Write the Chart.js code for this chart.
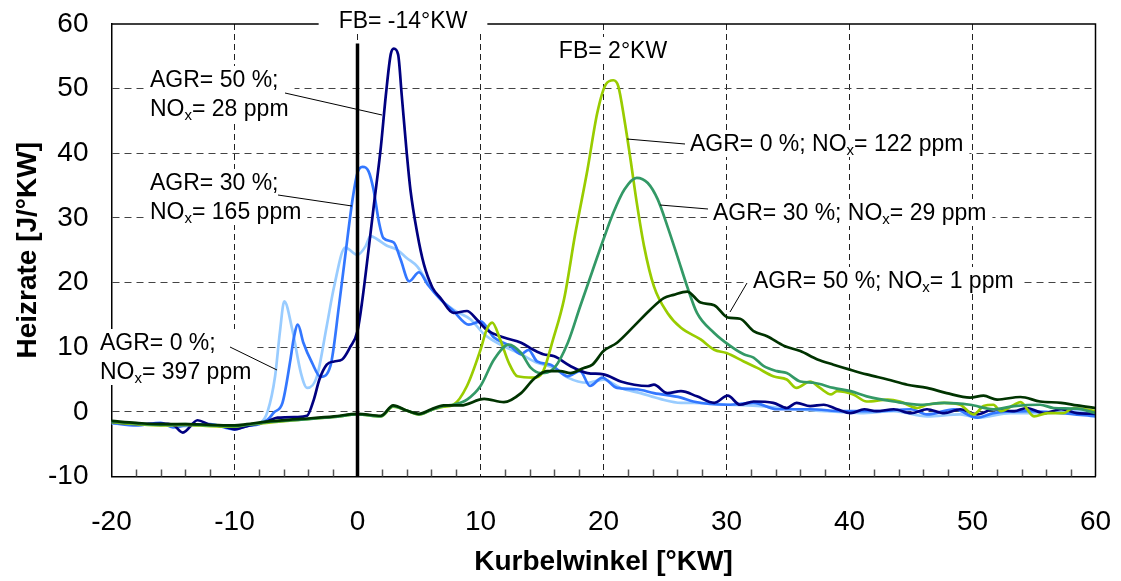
<!DOCTYPE html>
<html lang="de">
<head>
  <meta charset="UTF-8">
  <title>Heizrate</title>
  <script src="https://cdn.jsdelivr.net/npm/chart.js"></script>
  <style>
    html, body { margin: 0; padding: 0; background: #fff; }
    #wrap { width: 1121px; height: 581px; }
  </style>
</head>
<body>
  <div id="wrap"><canvas id="chart" width="1121" height="581"></canvas></div>

  <script>
    // Kurbelwinkel [°KW] und Heizrate [J/°KW] je Kurve
    // FB = -14°KW
    const blue0X = [-20,-18,-16,-14,-12,-10,-9,-7.9,-7.3,-6.7,-6.3,-5.95,-5.3,-4.6,-4.1,-3.3,-2.5,-1.9,-1.0,0,0.65,1.05,1.6,2.4,3.2,4,4.85,5.7,6.5,7.8,9.2,10.3,11.6,13.3,14.6,16,17.1,18.7,20,21.4,23,24.6,26.3,27.3,30.1,32.8,35.5,38.2,40.9,43.6,46.3,49,50.4,53.1,55.8,58.5,60];
    const blue0Y = [-1.8,-2.0,-1.9,-2.2,-2.0,-2.5,-2.1,-1.7,0.1,5.5,12.5,17.1,12.7,6.0,3.7,5.5,13.3,19.4,25.4,24.3,25.6,27.2,26.7,25.7,25.1,23.8,22.5,20.0,17.9,15.8,14.3,12.0,10.4,8.9,7.6,6.8,5.3,4.5,5.0,3.7,2.9,2.0,1.4,1.4,1.1,0.9,0.4,0.1,-0.2,0.1,-0.7,-0.4,-0.9,-0.2,-0.2,0.1,-0.5];

    const blue30X = [-20,-18,-16,-15,-14,-12,-10,-9,-8,-7.3,-6.8,-6.1,-5.45,-5.2,-4.85,-4.4,-3.7,-3.0,-2.2,-1.5,-1.0,-0.4,0,0.4,0.9,1.3,1.75,2.1,2.95,3.5,4.2,5.0,5.7,6.75,7.8,9.05,10,11.1,12.4,13.3,13.9,14.6,15.7,17.1,18.1,18.9,19.9,21.1,22.7,24.1,26.3,27.3,30.1,32.2,34.1,36.8,39.5,42.2,45,46.3,48.5,50.4,51.7,54.4,57.2,60];
    const blue30Y = [-1.7,-2.1,-1.7,-2.4,-2.1,-1.9,-2.7,-2.2,-1.9,-1.2,-0.1,1.4,8.1,11.2,13.5,10.7,7.6,5.4,7.1,16.5,24.1,32.9,37.0,37.9,37.2,34.4,29.3,26.9,26.2,23.6,20.2,21.6,19.7,17.4,15.6,13.5,14.0,11.5,10.2,8.9,9.6,7.8,7.3,5.5,6.3,4.0,5.3,3.7,3.5,2.9,2.2,1.6,1.1,1.4,0.4,0.4,0.1,0.1,0.4,-0.4,0.4,-0.9,-0.2,0.1,-0.2,-0.7];

    const blue50X = [-20,-18,-16,-15,-14.2,-13,-12,-11,-10,-9,-8,-7.35,-6.5,-4.9,-4.1,-3.55,-3.1,-2.5,-1.9,-1.25,-0.6,0,0.4,0.9,1.3,1.9,2.3,2.7,2.95,3.3,3.6,4.0,4.3,4.85,5.4,6.1,6.75,7.8,8.9,9.7,10.5,11.9,13.3,14.3,15.1,16,17.3,18.7,20,21.4,22.5,23.6,24.1,25.2,26.3,27.6,29,30.1,31.1,32.2,33.8,34.9,35.7,36.8,37.9,39,40.1,41.2,42.2,43.6,45,46.3,47.7,49,50.4,51.7,53.4,54.4,55.8,57.2,58.5,60];
    const blue50Y = [-1.6,-1.9,-1.8,-2.0,-3.2,-1.3,-2.0,-2.2,-2.7,-2.2,-1.8,-1.5,-0.9,-0.8,-0.6,1.9,5.0,7.3,7.8,8.1,10.0,12.5,17.4,25.1,31.5,41.0,48.9,55.3,56.2,55.3,48.9,40.1,34.4,27.7,22.8,19.2,17.6,15.3,15.6,14.3,12.7,11.5,10.7,9.6,8.9,8.6,7.1,6.0,5.8,4.7,4.2,4.0,4.2,2.9,3.2,2.4,1.4,2.5,1.1,1.6,1.4,0.6,1.4,0.9,1.1,0.4,-0.2,0.4,0.1,0.4,-0.2,0.4,-0.2,0.4,-0.4,0.4,0.1,0.6,-0.2,0.4,-0.2,-0.3];

    // FB = 2°KW
    const green0X = [-20,-18,-16,-14,-12,-10,-9,-7.4,-4.6,-1.9,0,1.9,2.9,4,5,6,7,7.8,8.9,10,10.5,10.95,11.6,12.3,13,14.3,15.1,15.9,16.8,17.7,18.7,19.5,20.2,20.8,21.2,21.7,22.2,22.7,23.3,24.1,25.2,26.3,27.9,29,30,31.4,32.5,33.8,34.9,35.7,36.8,37.6,38.5,39,40.3,41.4,43.1,44.1,45.5,46.3,47.7,49,50.1,50.9,51.7,52.3,53.4,53.9,55,56.1,57.4,58.2,60];
    const green0Y = [-1.6,-1.9,-2.1,-2.0,-2.2,-2.3,-2.0,-1.7,-1.2,-0.8,-0.4,-0.7,0.8,0.2,-0.4,0.3,0.8,1.1,4.0,9.6,12.7,13.8,11.2,7.6,5.5,5.3,6.3,11.2,17.5,27.5,37.5,46.3,50.7,51.3,50.4,45.2,39.0,32.4,25.6,19.4,15.3,13.0,11.2,9.6,9.1,7.8,6.8,5.5,5.0,3.7,4.7,3.7,2.7,3.2,2.7,1.6,1.9,1.6,0.6,1.1,1.4,1.1,-0.4,0.9,1.1,0.1,1.1,1.5,-0.7,-0.2,-0.2,0.6,0.1];

    const green30X = [-20,-18,-16,-14,-12,-10,-9,-7.4,-4.6,-1.9,0,1.9,2.9,4,5,6,7,7.8,8.9,10,11.1,12.3,13.3,14.1,14.9,16,17.1,18.1,19.1,20,20.8,21.7,22.7,23.6,24.4,25.2,26,26.8,27.6,29,30.3,31.4,32.2,33,34.1,34.9,36,37.1,38.7,40.1,41.4,43.6,45.8,47.7,49.8,51.7,53.4,55.5,56.6,58.5,60];
    const green30Y = [-1.5,-1.8,-2.0,-1.9,-2.1,-2.2,-2.0,-1.6,-1.2,-0.8,-0.4,-0.7,0.9,0.2,-0.4,0.3,0.9,1.1,1.9,4.0,8.1,10.4,9.1,6.8,6.0,6.8,10.7,16.3,21.8,26.7,30.8,34.4,36.2,35.4,32.9,28.7,24.1,19.4,15.3,12.2,10.2,8.9,8.4,7.1,6.3,6.0,4.7,4.5,3.7,3.2,2.4,1.6,1.1,1.4,1.1,0.4,0.9,1.1,0.6,0.5,-0.2];

    const green50X = [-20,-18,-16,-14,-12,-10,-9,-7.4,-4.6,-1.9,0,1.9,2.9,4,5,6,7,8.4,10.3,11.9,13.3,14.3,15.4,16.5,17.3,18.4,19.1,20,21.1,22.5,23.8,24.9,25.7,26.8,27.9,29,30.1,31.1,32.2,33.3,34.7,36,37.4,38.7,40.1,41.4,43.1,44.7,46.3,47.9,49.8,50.9,52,53.9,55.5,57.2,58.5,60];
    const green50Y = [-1.4,-1.7,-1.9,-1.9,-2.0,-2.1,-1.9,-1.5,-1.1,-0.7,-0.3,-0.6,1.0,0.2,-0.3,0.4,1.0,1.0,2.0,1.5,2.9,5.0,6.3,6.3,6.0,6.8,7.3,9.4,10.7,13.3,15.8,17.6,18.1,18.6,16.9,16.5,14.6,14.4,12.5,11.7,10.2,9.4,8.1,7.3,6.5,5.8,5.0,4.2,3.7,2.9,2.2,2.5,1.9,2.3,1.6,1.4,1.0,0.6];

    const xMin = -20, xMax = 60, xStep = 10, xMinorStep = 2;
    const yMin = -10, yMax = 60, yStep = 10;

    const FONT = '"Liberation Sans", Arial, Helvetica, sans-serif';

    // Beschriftungen (Pixel), "_x" = tiefgestelltes x
    const notes = [
      { lines: ['FB= -14°KW'], cx: 403, y: 20, pad: 20 },
      { lines: ['FB= 2°KW'], cx: 613, y: 50, pad: 8 },
      { lines: ['AGR= 50 %;', 'NO_x= 28 ppm'], x: 150, y: 79, pad: 6 },
      { lines: ['AGR= 30 %;', 'NO_x= 165 ppm'], x: 150, y: 182, pad: 6 },
      { lines: ['AGR= 0 %;', 'NO_x= 397 ppm'], x: 100, y: 342, pad: 6 },
      { lines: ['AGR= 0 %; NO_x= 122 ppm'], x: 690, y: 143, pad: 6 },
      { lines: ['AGR= 30 %; NO_x= 29 ppm'], x: 713, y: 212, pad: 6 },
      { lines: ['AGR= 50 %; NO_x= 1 ppm'], x: 753, y: 280, pad: 8 }
    ];
    const leaders = [
      [285, 93, 382, 115],
      [278, 195, 352, 206],
      [230, 347, 277, 370],
      [627, 139, 685, 144],
      [660, 205, 708, 209],
      [730, 312, 747, 283]
    ];

    function pts(xs, ys) {
      return xs.map((x, i) => ({ x: x, y: ys[i] }));
    }

    function richWidth(ctx, str) {
      const parts = str.split('_x');
      let w = 0;
      parts.forEach((p, i) => {
        if (i > 0) { ctx.font = '15px ' + FONT; w += ctx.measureText('x').width; }
        ctx.font = '23px ' + FONT;
        w += ctx.measureText(p).width;
      });
      return w;
    }

    function drawRich(ctx, str, x, cy) {
      const parts = str.split('_x');
      let cx = x;
      const base = cy + 8;
      parts.forEach((p, i) => {
        if (i > 0) {
          ctx.font = '15px ' + FONT;
          ctx.fillText('x', cx, base + 4);
          cx += ctx.measureText('x').width;
        }
        ctx.font = '23px ' + FONT;
        ctx.fillText(p, cx, base);
        cx += ctx.measureText(p).width;
      });
    }

    const overlay = {
      id: 'overlay',
      afterDatasetsDraw(chart) {
        const { ctx, chartArea: a, scales: { x, y } } = chart;
        ctx.save();
        // Rahmen oben und rechts
        ctx.strokeStyle = '#000';
        ctx.lineWidth = 1.5;
        ctx.beginPath();
        ctx.moveTo(a.left, a.top);
        ctx.lineTo(a.right, a.top);
        ctx.lineTo(a.right, a.bottom);
        ctx.stroke();

        // Hilfsstriche auf der x-Achse
        ctx.strokeStyle = '#555';
        ctx.lineWidth = 1.5;
        for (let v = xMin + xMinorStep; v < xMax; v += xMinorStep) {
          if (v % xStep === 0) continue;
          const px = Math.round(x.getPixelForValue(v)) + 0.5;
          ctx.beginPath();
          ctx.moveTo(px, a.bottom);
          ctx.lineTo(px, a.bottom - 7);
          ctx.stroke();
        }

        // Linie bei 0°KW
        const x0 = x.getPixelForValue(0);
        ctx.strokeStyle = '#000';
        ctx.lineWidth = 3.5;
        ctx.beginPath();
        ctx.moveTo(x0, y.getPixelForValue(57));
        ctx.lineTo(x0, a.bottom);
        ctx.stroke();

        // Textfelder
        ctx.textBaseline = 'alphabetic';
        ctx.textAlign = 'left';
        notes.forEach(n => {
          const widths = n.lines.map(l => richWidth(ctx, l));
          const w = Math.max(...widths);
          const left = n.cx !== undefined ? n.cx - w / 2 : n.x;
          const top = n.y - 13;
          const h = (n.lines.length - 1) * 29 + 27;
          ctx.fillStyle = '#fff';
          ctx.fillRect(left - n.pad, top, w + 2 * n.pad, h);
          ctx.fillStyle = '#000';
          n.lines.forEach((l, i) => {
            const lx = n.cx !== undefined ? n.cx - widths[i] / 2 : n.x;
            drawRich(ctx, l, lx, n.y + i * 29);
          });
        });

        // Hinweislinien
        ctx.lineWidth = 1;
        ctx.strokeStyle = '#000';
        leaders.forEach(([x1, y1, x2, y2]) => {
          ctx.beginPath();
          ctx.moveTo(x1, y1);
          ctx.lineTo(x2, y2);
          ctx.stroke();
        });
        ctx.restore();
      }
    };

    function series(xs, ys, color) {
      return {
        data: pts(xs, ys),
        borderColor: color,
        borderWidth: 2.7,
        pointRadius: 0,
        fill: false,
        cubicInterpolationMode: 'monotone'
      };
    }

    new Chart(document.getElementById('chart').getContext('2d'), {
      type: 'line',
      data: {
        datasets: [
          series(green50X, green50Y, '#003300'),
          series(green30X, green30Y, '#339966'),
          series(green0X, green0Y, '#99cc00'),
          series(blue50X, blue50Y, '#000080'),
          series(blue30X, blue30Y, '#3377ff'),
          series(blue0X, blue0Y, '#99ccff')
        ]
      },
      options: {
        responsive: false,
        animation: false,
        devicePixelRatio: 1,
        layout: { padding: { top: 24, right: 25.5, left: 0, bottom: 0 } },
        plugins: {
          legend: { display: false },
          tooltip: { enabled: false }
        },
        scales: {
          x: {
            type: 'linear',
            min: xMin,
            max: xMax,
            afterFit: s => { s.height = 104.5; s.paddingLeft = 0; s.paddingRight = 0; },
            ticks: {
              stepSize: xStep,
              autoSkip: false,
              maxRotation: 0,
              padding: 29,
              color: '#000',
              font: { family: FONT, size: 28 }
            },
            grid: {
              lineWidth: 1,
              drawTicks: false,
              color: c => (c.tick && c.tick.value !== xMin && c.tick.value !== xMax) ? '#222' : 'rgba(0,0,0,0)'
            },
            border: { display: true, color: '#000', width: 1.5, dash: [6, 4] },
            title: {
              display: true,
              text: 'Kurbelwinkel [°KW]',
              color: '#000',
              font: { family: FONT, size: 28, weight: 'bold' },
              padding: { top: 0, bottom: 2 }
            }
          },
          y: {
            min: yMin,
            max: yMax,
            afterFit: s => { s.width = 111.5; s.paddingTop = 0; s.paddingBottom = 0; },
            ticks: {
              stepSize: yStep,
              padding: 23,
              color: '#000',
              font: { family: FONT, size: 28 }
            },
            grid: {
              lineWidth: 1,
              drawTicks: false,
              color: c => (c.tick && c.tick.value !== yMin && c.tick.value !== yMax) ? '#444' : 'rgba(0,0,0,0)'
            },
            border: { display: true, color: '#000', width: 1.5, dash: [7, 5] },
            title: {
              display: true,
              text: 'Heizrate [J/°KW]',
              color: '#000',
              font: { family: FONT, size: 28, weight: 'bold' },
              padding: { top: 11, bottom: 0 }
            }
          }
        }
      },
      plugins: [overlay]
    });
  </script>
</body>
</html>
